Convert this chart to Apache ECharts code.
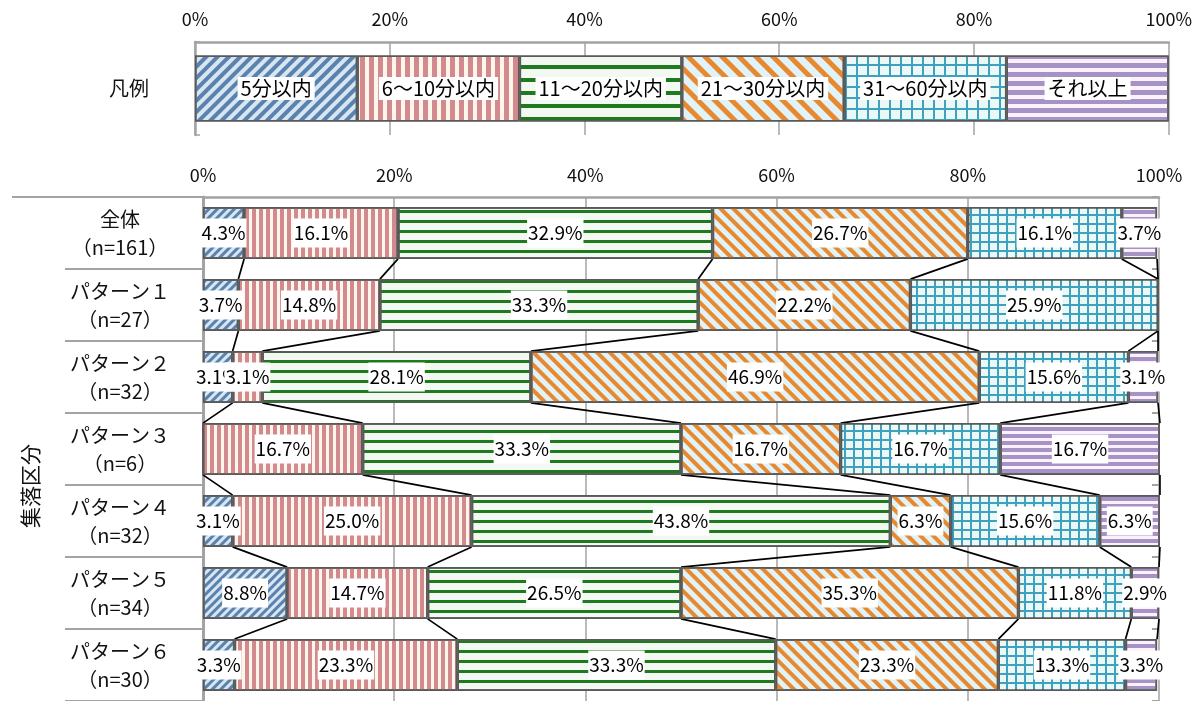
<!DOCTYPE html>
<html>
<head>
<meta charset="utf-8">
<script src="https://cdn.jsdelivr.net/npm/echarts@6/dist/echarts.min.js"></script>
<style>
  html, body { margin: 0; padding: 0; background: #ffffff; }
  #chart { width: 1195px; height: 701px; }
</style>
</head>
<body>
<div id="chart"></div>
<script>
// ---- data -------------------------------------------------------------
const groups = [
  '全体\n（n=161）',
  'パターン１\n（n=27）',
  'パターン２\n（n=32）',
  'パターン３\n（n=6）',
  'パターン４\n（n=32）',
  'パターン５\n（n=34）',
  'パターン６\n（n=30）'
];
const bandNames = ['5分以内', '6～10分以内', '11～20分以内', '21～30分以内', '31～60分以内', 'それ以上'];

const within5   = [4.3, 3.7, 3.1, 0.0, 3.1, 8.8, 3.3];
const min6to10  = [16.1, 14.8, 3.1, 16.7, 25.0, 14.7, 23.3];
const min11to20 = [32.9, 33.3, 28.1, 33.3, 43.8, 26.5, 33.3];
const min21to30 = [26.7, 22.2, 46.9, 16.7, 6.3, 35.3, 23.3];
const min31to60 = [16.1, 25.9, 15.6, 16.7, 15.6, 11.8, 13.3];
const over60    = [3.7, 0.0, 3.1, 16.7, 6.3, 2.9, 3.3];

// key strip: one equal-width cell per time band
const keyRow  = ['凡例'];
const keySpan = [1, 1, 1, 1, 1, 1];

const percentMax = 100;
const percentStep = 20;

// ---- styles -----------------------------------------------------------
const FONT = "'Noto Sans CJK JP', 'Noto Sans', sans-serif";
const AXIS_GRAY = '#a3a3a3';
const BAR_RATIO = 0.72;

function makeStyles(k) {
  const s = v => Math.max(1, Math.round(v * k));
  return [
    { color: '#d8e6f2', decal: { symbol: 'rect', symbolSize: 1, color: '#5a82ae',
        dashArrayX: [[s(3), s(3)]], dashArrayY: [40, 0], rotation: Math.PI / 4 } },
    { color: '#fdf6ea', decal: { symbol: 'rect', symbolSize: 1, color: '#d38a8f',
        dashArrayX: [[s(4), s(3)]], dashArrayY: [20, 0], rotation: 0 } },
    { color: '#f3f9f2', decal: { symbol: 'rect', symbolSize: 1, color: '#1f7a1f',
        dashArrayX: [[20, 0]], dashArrayY: [s(3), s(7)], rotation: 0 } },
    { color: '#e0f3f8', decal: { symbol: 'rect', symbolSize: 1, color: '#e8892f',
        dashArrayX: [[s(4), s(5)]], dashArrayY: [40, 0], rotation: -Math.PI / 4 } },
    { color: '#40a0bf', decal: { symbol: 'rect', symbolSize: 1, color: '#eaf8f6',
        dashArrayX: [[s(7), 2]], dashArrayY: [s(7), 2], rotation: 0 } },
    { color: '#fbf1fa', decal: { symbol: 'rect', symbolSize: 1, color: '#a493c4',
        dashArrayX: [[20, 0]], dashArrayY: [s(4), s(3)], rotation: 0 } }
  ];
}
const mainStyles = makeStyles(1);
const keyStyles = makeStyles(1.35);

const bandValues = [within5, min6to10, min11to20, min21to30, min31to60, over60];

// cumulative right edges of every segment, per group
const cumulative = groups.map((_, i) => {
  let acc = 0;
  return bandValues.map(arr => (acc += arr[i]));
});

// connector lines between neighbouring bars
const connectorData = [];
for (let i = 0; i < groups.length - 1; i++) {
  for (let j = 0; j < bandValues.length; j++) {
    connectorData.push([cumulative[i][j], i, cumulative[i + 1][j]]);
  }
}

const dataLabel = {
  show: true,
  position: 'inside',
  color: '#000',
  fontFamily: FONT,
  fontSize: 19,
  backgroundColor: '#ffffff',
  padding: [6, 1, 4, 1],
  formatter: p => p.value.toFixed(1) + '%'
};

const series = [];
// key strip
bandNames.forEach((name, j) => {
  series.push({
    name: name,
    type: 'bar',
    stack: 'key',
    xAxisIndex: 0,
    yAxisIndex: 0,
    barWidth: '71%',
    data: [keySpan[j]],
    itemStyle: Object.assign({ borderColor: '#595959', borderWidth: 1.5 }, keyStyles[j]),
    label: {
      show: true, position: 'inside', color: '#000', fontFamily: FONT, fontSize: 20,
      backgroundColor: '#ffffff', padding: [2, 3, 1, 3], formatter: () => name
    },
    emphasis: { disabled: true },
    silent: true
  });
});
// main stacked bars
bandNames.forEach((name, j) => {
  series.push({
    name: name + ' ',
    type: 'bar',
    stack: 'total',
    xAxisIndex: 1,
    yAxisIndex: 1,
    barWidth: (BAR_RATIO * 100) + '%',
    data: bandValues[j].map(v => ({ value: v, label: { show: v > 0 } })),
    itemStyle: Object.assign({ borderColor: '#595959', borderWidth: 1.6 }, mainStyles[j]),
    label: dataLabel,
    emphasis: { disabled: true },
    silent: true,
    z: 3
  });
});
series.push({
  type: 'custom',
  xAxisIndex: 1,
  yAxisIndex: 1,
  silent: true,
  z: 2,
  encode: { x: [0, 2], y: 1 },
  data: connectorData,
  renderItem: function (params, api) {
    const row = api.value(1);
    const half = api.size([0, 1])[1] * BAR_RATIO / 2;
    const p0 = api.coord([api.value(0), row]);
    const p1 = api.coord([api.value(2), row + 1]);
    return {
      type: 'line',
      shape: { x1: p0[0], y1: p0[1] + half, x2: p1[0], y2: p1[1] - half },
      style: { stroke: '#000', lineWidth: 1.7 }
    };
  }
});

const keyTotal = keySpan.reduce((a, b) => a + b, 0);

const option = {
  animation: false,
  backgroundColor: '#ffffff',
  textStyle: { fontFamily: FONT },
  grid: [
    { left: 195, right: 24, top: 42, height: 93 },
    { left: 203, right: 36, top: 197, height: 505 }
  ],
  xAxis: [
    {
      gridIndex: 0, type: 'value', position: 'top', min: 0, max: keyTotal,
      interval: keyTotal / 5,
      axisLine: { show: true, lineStyle: { color: AXIS_GRAY, width: 2.5 } },
      axisTick: { show: false },
      splitLine: { show: true, lineStyle: { color: AXIS_GRAY, width: 1.5 } },
      axisLabel: {
        color: '#111', fontSize: 18, margin: 14, fontFamily: FONT,
        formatter: v => Math.round(v / keyTotal * 100) + '%'
      }
    },
    {
      gridIndex: 1, type: 'value', position: 'top', min: 0, max: percentMax,
      interval: percentStep,
      axisLine: { show: true, lineStyle: { color: AXIS_GRAY, width: 2.5 } },
      axisTick: { show: false },
      splitLine: { show: true, lineStyle: { color: AXIS_GRAY, width: 1.5 } },
      axisLabel: { color: '#111', fontSize: 18, margin: 13, fontFamily: FONT, formatter: '{value}%' }
    }
  ],
  yAxis: [
    {
      gridIndex: 0, type: 'category', data: keyRow,
      axisLine: { show: true, lineStyle: { color: AXIS_GRAY, width: 2.5 } },
      axisTick: { show: true, inside: true, length: 5, lineStyle: { color: AXIS_GRAY, width: 1.5 } },
      axisLabel: { color: '#111', fontSize: 20, margin: 46, fontFamily: FONT }
    },
    {
      gridIndex: 1, type: 'category', data: groups, inverse: true,
      axisLine: { show: true, lineStyle: { color: AXIS_GRAY, width: 3 } },
      axisTick: { show: true, length: 138, interval: 0, lineStyle: { color: AXIS_GRAY, width: 2 } },
      axisLabel: {
        color: '#111', fontSize: 20, lineHeight: 28, align: 'center', margin: 83,
        fontFamily: FONT, interval: 0
      }
    },
    {
      gridIndex: 1, type: 'category', data: groups, inverse: true,
      axisLine: { show: false },
      axisTick: { show: true, inside: true, length: 7, interval: 0, lineStyle: { color: AXIS_GRAY, width: 2 } },
      axisLabel: { show: false }
    }
  ],
  graphic: [
    {
      type: 'line', silent: true,
      shape: { x1: 12, y1: 197, x2: 66, y2: 197 },
      style: { stroke: AXIS_GRAY, lineWidth: 2 }
    },
    {
      type: 'text', silent: true, x: 30, y: 486, rotation: Math.PI / 2,
      style: {
        text: '集落区分', fill: '#111', font: '21px ' + FONT,
        textAlign: 'center', textVerticalAlign: 'middle'
      }
    }
  ],
  series: series
};

const chart = echarts.init(document.getElementById('chart'), null, { renderer: 'canvas' });
chart.setOption(option);
</script>
</body>
</html>
